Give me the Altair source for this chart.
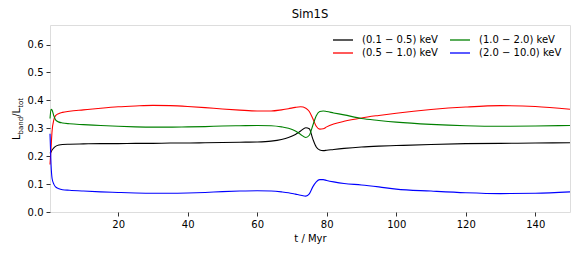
import altair as alt
import pandas as pd

# time grid (Myr)
t = [0.4, 0.7, 1.0, 1.5, 2, 3, 4, 6, 10, 15, 20, 25, 30, 35, 40, 45, 50, 55, 60, 64, 67, 69, 71,
     72.5, 74, 75, 76, 77, 78, 79, 80, 82, 85, 90, 95, 100, 110, 120, 130, 140, 150]

band_01_05 = [0.210, 0.215, 0.222, 0.230, 0.235, 0.240, 0.242, 0.243, 0.244, 0.245, 0.245, 0.246,
              0.246, 0.247, 0.247, 0.248, 0.249, 0.250, 0.251, 0.254, 0.260, 0.267, 0.278, 0.290,
              0.302, 0.298, 0.262, 0.233, 0.222, 0.220, 0.221, 0.224, 0.228, 0.233, 0.236, 0.238,
              0.242, 0.245, 0.246, 0.247, 0.248]
band_05_10 = [0.170, 0.230, 0.290, 0.330, 0.345, 0.353, 0.357, 0.361, 0.366, 0.372, 0.377, 0.380,
              0.382, 0.381, 0.378, 0.374, 0.369, 0.365, 0.362, 0.362, 0.366, 0.370, 0.375, 0.377,
              0.372, 0.360, 0.335, 0.307, 0.297, 0.298, 0.305, 0.315, 0.325, 0.337, 0.346, 0.354,
              0.367, 0.376, 0.381, 0.378, 0.368]
band_10_20 = [0.335, 0.368, 0.365, 0.345, 0.330, 0.322, 0.319, 0.316, 0.313, 0.310, 0.307, 0.305,
              0.304, 0.304, 0.305, 0.306, 0.308, 0.309, 0.310, 0.309, 0.305, 0.300, 0.290, 0.278,
              0.267, 0.275, 0.310, 0.345, 0.360, 0.362, 0.360, 0.355, 0.348, 0.335, 0.328, 0.322,
              0.314, 0.309, 0.307, 0.308, 0.310]
band_20_100 = [0.280, 0.170, 0.120, 0.100, 0.090, 0.083, 0.080, 0.078, 0.075, 0.072, 0.070, 0.068,
               0.067, 0.067, 0.068, 0.070, 0.073, 0.075, 0.076, 0.075, 0.072, 0.069, 0.064, 0.060,
               0.057, 0.065, 0.090, 0.108, 0.116, 0.116, 0.113, 0.108, 0.102, 0.097, 0.090, 0.082,
               0.075, 0.069, 0.066, 0.067, 0.072]

# legend order (filled column by column: black, red | green, blue)
labels = ["(0.1 − 0.5) keV", "(0.5 − 1.0) keV", "(1.0 − 2.0) keV", "(2.0 − 10.0) keV"]
colors = ["#000000", "#ff0000", "#008000", "#0000ff"]
series = [band_01_05, band_05_10, band_10_20, band_20_100]

x_ticks = [20, 40, 60, 80, 100, 120, 140]
y_ticks = [0.0, 0.1, 0.2, 0.3, 0.4, 0.5, 0.6]

rows = []
for lab, vals in zip(labels, series):
    for ti, v in zip(t, vals):
        rows.append({"t": ti, "v": v, "band": lab})
df = pd.DataFrame(rows)

FONT = "DejaVu Sans"

lines = alt.Chart(df).mark_line(strokeWidth=1.1, interpolate="monotone").encode(
    x=alt.X("t:Q", scale=alt.Scale(domain=[0.4, 150], nice=False, zero=False),
            axis=alt.Axis(values=x_ticks, title="t / Myr", grid=False, domain=False,
                          tickSize=4, tickColor="#333", labelPadding=3, titlePadding=4,
                          labelFontSize=10, titleFontSize=10, titleFontWeight="normal",
                          labelColor="black", titleColor="black", labelFont=FONT, titleFont=FONT)),
    y=alt.Y("v:Q", scale=alt.Scale(domain=[0, 0.67], nice=False),
            axis=alt.Axis(values=y_ticks, format=".1f", title=None, grid=False, domain=False,
                          tickSize=4, tickColor="#333", labelPadding=3, labelFontSize=10,
                          labelColor="black", labelFont=FONT)),
    color=alt.Color("band:N", sort=labels,
                    scale=alt.Scale(domain=labels, range=colors),
                    legend=alt.Legend(title=None, orient="none", legendX=287, legendY=9,
                                      columns=2, symbolType="M-2,0H2", symbolSize=100,
                                      symbolStrokeWidth=1.3, labelFontSize=10, labelFont=FONT,
                                      labelColor="black", labelOffset=13, columnPadding=9,
                                      rowPadding=2, padding=0)),
)

one = pd.DataFrame({"a": [0]})
def seg(txt, x, y, size):
    return alt.Chart(one).mark_text(text=txt, angle=270, align="left", baseline="alphabetic",
                                    fontSize=size, font=FONT, color="black").encode(
        x=alt.value(x), y=alt.value(y))

ytitle = (seg("L", -30, 115, 10) + seg("band", -27.5, 109.4, 7) +
          seg("/L", -30, 91.8, 10) + seg("tot", -27.5, 82.8, 7))

chart = alt.layer(lines, ytitle).properties(
    width=520, height=187,
    title=alt.TitleParams("Sim1S", fontSize=11.6, font=FONT, fontWeight="normal", color="black", offset=4),
    autosize=alt.AutoSizeParams(type="none"),
    padding={"left": 42, "top": 17, "right": 2, "bottom": 33},
).configure_view(stroke="#333", strokeWidth=1).configure(background="white")

chart.save("out.html", embed_options={"renderer": "svg", "actions": False})
